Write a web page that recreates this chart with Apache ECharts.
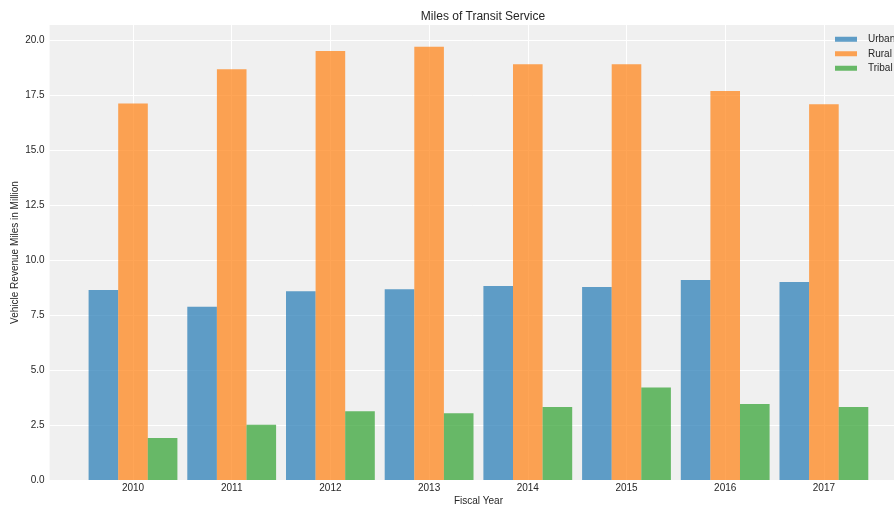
<!DOCTYPE html>
<html>
<head>
<meta charset="utf-8">
<script src="https://cdn.jsdelivr.net/npm/echarts@6/dist/echarts.min.js"></script>
<style>html,body{margin:0;padding:0;background:#fff}#c{width:894px;height:506px}</style>
</head>
<body>
<div id="c"></div>
<script>
var years = ['2010','2011','2012','2013','2014','2015','2016','2017'];
var urban = [8.64, 7.88, 8.58, 8.67, 8.82, 8.77, 9.09, 9.00];
var rural = [17.12, 18.67, 19.50, 19.70, 18.90, 18.90, 17.68, 17.08];
var tribal = [1.91, 2.51, 3.12, 3.03, 3.32, 4.20, 3.45, 3.32];
var yTicks = [0, 2.5, 5, 7.5, 10, 12.5, 15, 17.5, 20];
var xTicks = years.map(function (y, i) { return i; });

function pairs(arr) { return arr.map(function (v, i) { return [i, v]; }); }

var chart = echarts.init(document.getElementById('c'), null, {renderer: 'canvas'});
var font = 'Liberation Sans, Arial, sans-serif';
var txt = '#262626';
chart.setOption({
  animation: false,
  backgroundColor: '#ffffff',
  title: {
    text: 'Miles of Transit Service',
    left: 478, top: 6, textAlign: 'center',
    textStyle: {fontFamily: font, fontSize: 12, fontWeight: 'normal', color: txt}
  },
  legend: {
    orient: 'vertical', left: 835, top: 33, padding: 0, itemWidth: 22, itemHeight: 5, itemGap: 2,
    icon: 'rect',
    textStyle: {fontFamily: font, fontSize: 10, color: txt, padding: [0, 0, 0, 6], lineHeight: 12.5, overflow: 'none'},
    data: ['Urban', 'Rural', 'Tribal']
  },
  grid: {
    left: 49.6, right: -13.3, top: 25, bottom: 26,
    outerBoundsMode: 'none', containLabel: false,
    show: true, backgroundColor: '#f0f0f0', borderWidth: 0
  },
  xAxis: {
    type: 'value', min: -0.845, max: 7.845,
    name: 'Fiscal Year', nameLocation: 'middle', nameGap: 16, nameMoveOverlap: false,
    nameTextStyle: {fontFamily: font, fontSize: 10, color: txt},
    axisLine: {show: false},
    axisTick: {show: false, customValues: xTicks},
    axisLabel: {customValues: xTicks, fontFamily: font, fontSize: 10, color: txt, margin: 3,
      formatter: function (v) { return years[Math.round(v)]; }},
    splitLine: {show: true, lineStyle: {color: '#ffffff', width: 1}}
  },
  yAxis: {
    type: 'value', min: 0, max: 20.685,
    name: 'Vehicle Revenue Miles in Million', nameLocation: 'middle', nameGap: 29, nameMoveOverlap: false,
    nameTextStyle: {fontFamily: font, fontSize: 10, color: txt},
    axisLine: {show: false},
    axisTick: {show: false, customValues: yTicks},
    axisLabel: {customValues: yTicks, fontFamily: font, fontSize: 10, color: txt, margin: 5,
      formatter: function (v) { return v.toFixed(1); }},
    splitLine: {show: true, lineStyle: {color: '#ffffff', width: 1}}
  },
  series: [
    {name: 'Urban', type: 'bar', data: pairs(urban), barWidth: 29.6, barGap: '0%',
     itemStyle: {color: '#1f77b4', opacity: 0.7}},
    {name: 'Rural', type: 'bar', data: pairs(rural), barWidth: 29.6, barGap: '0%',
     itemStyle: {color: '#ff7f0e', opacity: 0.7}},
    {name: 'Tribal', type: 'bar', data: pairs(tribal), barWidth: 29.6, barGap: '0%',
     itemStyle: {color: '#2ca02c', opacity: 0.7}}
  ]
});
</script>
</body>
</html>
